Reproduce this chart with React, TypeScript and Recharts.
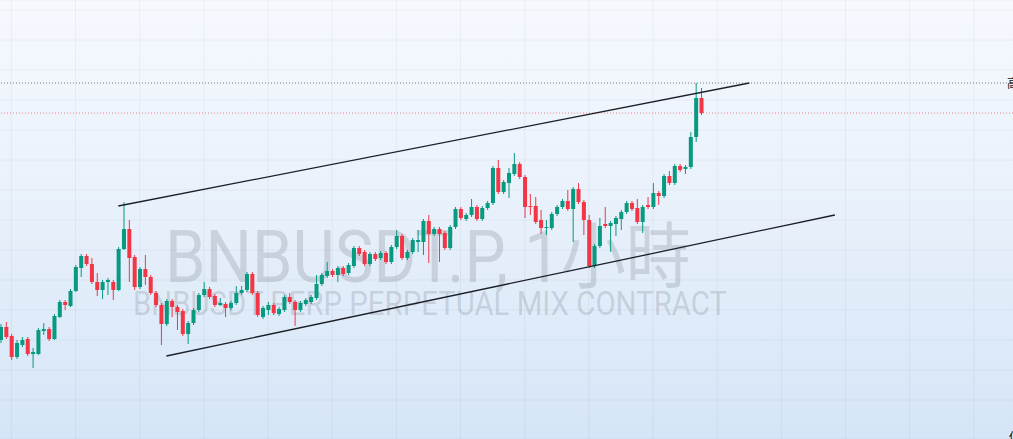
import React from 'react';
import { ComposedChart, Bar, XAxis, YAxis, CartesianGrid, ReferenceLine } from 'recharts';

// BNBUSDT.P 1h candles
const opens = [
  616.0, 617.3, 616.4, 614.3, 615.5, 616.1, 614.6, 614.6, 616.9, 617.1,
  616.1, 618.3, 619.8, 619.4, 620.9, 623.2, 624.4, 623.6, 621.8, 621.0,
  621.8, 621.8, 621.0, 625.1, 627.1, 624.3, 621.3, 623.1, 622.3, 620.7,
  619.5, 617.6, 619.9, 619.3, 618.9, 616.6, 617.7, 619.0, 620.5, 621.1,
  620.4, 619.5, 619.6, 619.2, 619.7, 620.7, 621.0, 622.6, 620.7, 618.3,
  619.0, 619.5, 618.6, 619.0, 620.3, 619.8, 619.0, 619.6, 619.8, 620.2,
  621.6, 622.4, 622.9, 622.5, 623.2, 622.7, 623.4, 625.2, 624.8, 623.6,
  624.6, 624.2, 624.7, 623.8, 625.3, 626.4, 624.2, 624.8, 625.8, 625.8,
  627.9, 626.6, 627.1, 626.7, 625.2, 627.3, 629.1, 628.1, 628.5, 629.3,
  628.1, 629.2, 629.7, 633.2, 630.8, 631.7, 632.6, 633.6, 632.3, 629.4,
  629.4, 628.0, 627.2, 627.2, 628.6, 629.3, 629.9, 629.1, 631.1, 629.8,
  628.0, 623.4, 625.4, 627.6, 627.4, 627.6, 628.1, 628.8, 629.7, 629.2,
  627.8, 629.5, 629.3, 630.7, 630.4, 632.4, 631.7, 633.4, 633.1, 633.3,
  636.3, 640.2,
];
const highs = [
  617.6, 617.8, 616.6, 616.0, 616.3, 616.3, 615.2, 617.2, 617.7, 617.3,
  618.6, 620.0, 620.0, 621.1, 623.5, 624.6, 624.6, 624.2, 622.7, 622.0,
  622.2, 622.0, 625.3, 629.8, 628.0, 624.5, 623.3, 624.5, 622.5, 620.9,
  619.7, 620.1, 620.1, 619.5, 619.1, 617.9, 619.2, 620.7, 621.8, 621.3,
  620.6, 620.2, 619.8, 619.9, 621.4, 621.4, 622.8, 622.8, 620.9, 619.4,
  619.8, 619.7, 619.3, 620.5, 620.7, 620.0, 619.9, 620.2, 620.5, 622.5,
  622.7, 623.8, 623.1, 623.4, 623.4, 623.7, 625.4, 625.4, 625.0, 624.8,
  624.8, 624.9, 624.9, 625.5, 627.0, 626.6, 625.0, 626.2, 627.0, 628.1,
  628.5, 627.3, 627.3, 626.9, 627.5, 629.3, 629.3, 628.7, 630.1, 629.5,
  629.4, 629.9, 633.4, 634.0, 632.0, 633.2, 634.7, 633.8, 632.5, 630.6,
  630.3, 629.0, 628.0, 628.8, 629.5, 630.1, 631.0, 631.3, 631.7, 630.0,
  628.5, 625.6, 628.2, 629.3, 627.9, 628.4, 629.0, 629.9, 629.9, 630.1,
  629.5, 630.3, 631.7, 630.9, 632.6, 632.9, 633.6, 633.6, 633.5, 636.8,
  641.7, 641.2,
];
const lows = [
  615.7, 616.1, 614.0, 614.1, 615.3, 614.4, 613.2, 614.5, 616.5, 615.9,
  616.0, 618.2, 619.0, 619.3, 620.8, 622.3, 623.4, 621.6, 620.4, 620.1,
  620.5, 620.0, 620.9, 625.0, 621.8, 621.0, 621.1, 621.5, 620.5, 619.3,
  615.5, 617.4, 618.3, 617.0, 616.4, 615.6, 617.5, 618.8, 620.3, 620.1,
  619.3, 619.4, 618.3, 619.0, 619.5, 620.5, 620.8, 620.5, 618.3, 618.1,
  618.5, 618.5, 618.4, 618.8, 619.6, 617.4, 618.8, 619.4, 619.6, 620.0,
  621.4, 622.2, 622.3, 621.8, 622.4, 622.5, 623.2, 624.4, 623.4, 623.4,
  623.9, 624.0, 623.6, 623.6, 625.1, 624.0, 624.0, 624.6, 624.8, 624.5,
  623.7, 626.4, 623.8, 625.0, 625.0, 627.1, 628.0, 627.9, 628.3, 627.9,
  627.9, 629.0, 629.5, 630.6, 630.6, 630.2, 632.4, 632.1, 628.2, 628.5,
  627.6, 626.6, 626.5, 627.0, 628.4, 629.1, 628.9, 625.8, 629.6, 626.5,
  623.2, 623.2, 625.2, 627.2, 624.8, 626.4, 627.0, 628.6, 628.9, 627.6,
  626.7, 629.1, 629.1, 629.5, 630.2, 631.5, 631.5, 632.8, 632.6, 633.1,
  635.8, 638.5,
];
const closes = [
  617.3, 616.3, 614.3, 615.7, 616.0, 614.6, 614.8, 617.0, 617.1, 616.1,
  618.4, 619.8, 619.5, 620.9, 623.3, 624.4, 623.6, 621.8, 621.0, 621.8,
  622.0, 621.0, 625.1, 627.1, 624.2, 621.3, 623.1, 622.3, 620.7, 619.5,
  617.6, 619.9, 619.3, 618.8, 616.6, 617.7, 619.0, 620.5, 621.1, 620.3,
  619.5, 619.7, 619.2, 619.7, 620.7, 621.0, 622.6, 620.7, 618.5, 619.2,
  619.5, 618.7, 619.1, 620.3, 619.8, 619.0, 619.7, 620.0, 620.3, 621.6,
  622.5, 622.9, 622.5, 623.2, 622.6, 623.5, 625.2, 624.6, 623.6, 624.6,
  624.1, 624.7, 623.8, 625.3, 626.4, 624.2, 624.8, 626.0, 626.0, 627.9,
  626.6, 627.1, 626.6, 625.2, 627.3, 629.1, 628.2, 628.5, 629.3, 628.1,
  629.2, 629.7, 633.2, 630.8, 631.8, 632.7, 633.6, 632.3, 629.3, 629.3,
  627.8, 627.2, 627.3, 628.6, 629.3, 629.9, 629.1, 631.1, 629.8, 628.0,
  623.4, 625.4, 627.4, 627.4, 627.7, 628.2, 628.8, 629.7, 629.1, 627.8,
  629.3, 629.3, 630.7, 630.4, 632.4, 631.7, 633.4, 633.0, 633.3, 636.3,
  640.2, 638.7,
];

// hourly slots, the chart leaves empty room on the right
const SLOTS = 190;
const times = Array.from({ length: SLOTS }, (_, i) => {
  const h = (22 + i) % 24;
  const d = 12 + Math.floor((22 + i) / 24);
  return `${d}日 ${String(h).padStart(2, '0')}:00`;
});
const gridTimes = times.filter((t) => t.endsWith(' 00:00') || t.endsWith(' 12:00'));
const priceTicks = [607, 610, 613, 616, 619, 622, 625, 628, 631, 634, 637, 640, 643, 646, 649];

// trend channel drawn on the chart (slot index, price)
const upperLine = [{ i: 22, p: 629.4 }, { i: 140, p: 641.7 }];
const lowerLine = [{ i: 31, p: 614.4 }, { i: 156, p: 628.5 }];

const UP = '#089981';
const DOWN = '#f23645';

const data = times.map((t, i) =>
  i < opens.length
    ? { t, o: opens[i], h: highs[i], l: lows[i], c: closes[i], range: [lows[i], highs[i]] }
    : { t }
);

const Candle = (props: any) => {
  const { x, y, width, height, payload } = props;
  if (!payload || payload.o === undefined) return null;
  const top = Math.min(y, y + height);
  const h = Math.abs(height);
  const span = payload.h - payload.l;
  const toY = (v: number) => top + ((payload.h - v) / span) * h;
  const color = payload.c >= payload.o ? UP : DOWN;
  const cx = x + width / 2;
  const y1 = toY(Math.max(payload.o, payload.c));
  const y2 = toY(Math.min(payload.o, payload.c));
  return (
    <g>
      <line x1={cx} x2={cx} y1={top} y2={top + h} stroke={color} strokeWidth={1} />
      <rect x={x} y={y1} width={width} height={Math.max(1, y2 - y1)} fill={color} />
    </g>
  );
};

export default function App() {
  return (
    <div
      style={{
        position: 'fixed',
        left: 0,
        top: 0,
        width: 1013,
        height: 439,
        overflow: 'hidden',
        background: 'linear-gradient(180deg, #f6f9fe 0%, #e9f1fb 45%, #d5e5f7 100%)',
      }}
    >
      {/* watermark: symbol line and description line in one text block */}
      <svg width={1013} height={439} style={{ position: 'absolute', left: 0, top: 0 }}>
        <text fontFamily="Roboto, 'Noto Sans CJK TC', sans-serif" fill="rgba(120,126,140,0.26)">
          <tspan x={165} y={282} fontSize={72} textLength={526} lengthAdjust="spacingAndGlyphs">
            BNBUSDT.P, 1小時
          </tspan>
          <tspan x={133} y={315} fontSize={33} textLength={594} lengthAdjust="spacingAndGlyphs">
            BNBUSDT PERP PERPETUAL MIX CONTRACT
          </tspan>
        </text>
        {/* price-scale labels cut off at the right edge */}
        <text x={1007} y={88} fontSize={12} fontFamily="'Noto Sans CJK TC', sans-serif" fill="#131722">
          高
        </text>
        <text x={1009} y={442} fontSize={12} fontFamily="'Noto Sans CJK TC', sans-serif" fill="#131722">
          低
        </text>
      </svg>
      <div style={{ position: 'absolute', left: -2, top: 0 }}>
        <ComposedChart width={1016} height={439} data={data} margin={{ top: 0, right: 0, bottom: 0, left: 0 }}>
          <CartesianGrid stroke="rgba(42,46,57,0.05)" strokeWidth={1} />
          <XAxis dataKey="t" hide ticks={gridTimes} interval={0} />
          <YAxis hide domain={[606.1, 650]} ticks={priceTicks} />
          <ReferenceLine y={Math.max(...highs)} stroke="#787b86" strokeDasharray="1 2" />
          <ReferenceLine y={closes[closes.length - 1]} stroke="#f23645" strokeOpacity={0.6} strokeDasharray="1 2" />
          <Bar dataKey="range" barSize={4} shape={Candle} isAnimationActive={false} />
          <ReferenceLine
            segment={upperLine.map((d) => ({ x: times[d.i], y: d.p }))}
            stroke="#1c1f26"
            strokeWidth={1.3}
            ifOverflow="visible"
          />
          <ReferenceLine
            segment={lowerLine.map((d) => ({ x: times[d.i], y: d.p }))}
            stroke="#1c1f26"
            strokeWidth={1.3}
            ifOverflow="visible"
          />
        </ComposedChart>
      </div>
    </div>
  );
}
